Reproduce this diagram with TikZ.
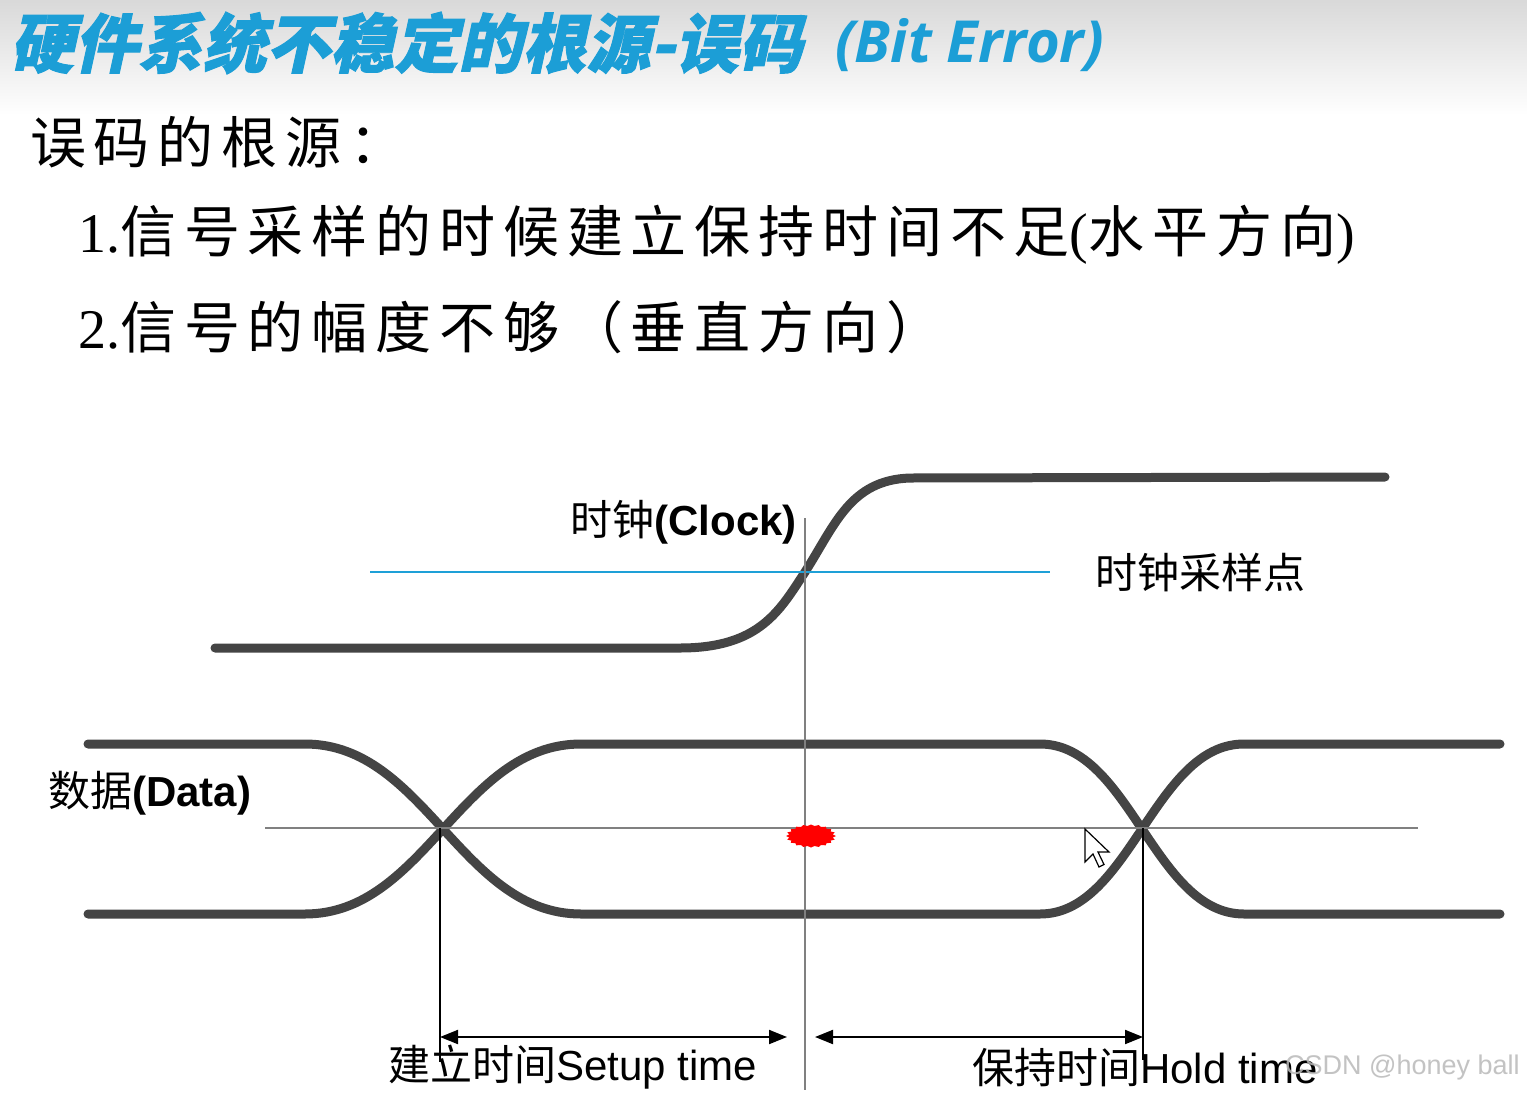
\documentclass[tikz,border=0pt]{standalone}
\usepackage{fontspec}
\setmainfont{Liberation Serif}
\setsansfont{Liberation Sans}
\newfontfamily\cjk{Noto Sans CJK SC}
\newfontfamily\cjksp[LetterSpace=14]{Noto Sans CJK SC}
\newfontfamily\serifsp[LetterSpace=14]{Liberation Serif}
\newfontfamily\cjktitle[FakeSlant=0.22,FakeBold=1.5]{Noto Sans CJK SC}
\newfontfamily\opensans{Open Sans}
\usetikzlibrary{arrows.meta}
\definecolor{titleblue}{RGB}{28,158,214}
\definecolor{wavegray}{RGB}{68,68,68}
\definecolor{sampleblue}{RGB}{30,160,215}
\begin{document}
\begin{tikzpicture}[x=1pt,y=-1pt,
  wave/.style={line width=9pt, draw=wavegray, line cap=round},
  guide/.style={line width=1.8pt, draw=gray},
  blackline/.style={line width=2pt, draw=black},
  dimarrow/.style={line width=2pt, {Triangle[length=18pt,width=14pt]}-{Triangle[length=18pt,width=14pt]}},
  txt/.style={anchor=west, inner sep=0pt},
  bodytext/.style={txt, font=\fontsize{56}{56}\selectfont},
  smalltext/.style={txt, font=\fontsize{42}{42}\selectfont}
]
\useasboundingbox (0,0) rectangle (1527,1093);
\fill[white] (0,0) rectangle (1527,1093);
\shade[top color=gray!30, bottom color=white] (0,0) rectangle (1527,115);

% title
\node[txt, text=titleblue, font={\cjktitle\bfseries\fontsize{64}{64}\selectfont}] (title) at (10,43) {硬件系统不稳定的根源-误码};
\node[txt, text=titleblue, font={\opensans\bfseries\itshape\fontsize{58}{58}\selectfont}] (titleen) at (835,45) {(Bit Error)};

% body text
\node[bodytext] (l0) at (30,142) {\cjksp 误码的根源：};
\node[bodytext] (l1) at (78,235) {1.{\cjksp 信号采样的时候建立保持时间不足}{\serifsp (}{\cjksp 水平方向}{\serifsp )}};
\node[bodytext] (l2) at (78,327) {2.{\cjksp 信号的幅度不够（垂直方向）}};

% clock waveform
\draw[wave] (215,648) -- (680,648) .. controls (760,648) and (780,610) .. (805,572)
  .. controls (835,525) and (850,480) .. (910,478) -- (1385,477);

% data waveforms
\draw[wave] (88,744) -- (305,744) .. controls (425,744) and (461,914) .. (581,914) -- (1040,914)
  .. controls (1130,914) and (1154,744) .. (1244,744) -- (1500,744);
\draw[wave] (88,914) -- (305,914) .. controls (425,914) and (461,744) .. (581,744) -- (1040,744)
  .. controls (1130,744) and (1154,914) .. (1244,914) -- (1500,914);

% guides
\coordinate (bl) at (370,572);
\coordinate (br) at (1050,572);
\draw[line width=2pt, draw=sampleblue] (bl) -- (br);
\coordinate (vt) at (805,518);
\coordinate (vb) at (805,1090);
\draw[guide] (vt) -- (vb);
\coordinate (hl) at (265,828);
\coordinate (hr) at (1418,828);
\draw[guide] (hl) -- (hr);

\coordinate (s1) at (440,828);
\coordinate (s2) at (440,1062);
\coordinate (h1) at (1143,828);
\coordinate (h2) at (1143,1060);
\draw[blackline] (s1) -- (s2);
\draw[blackline] (h1) -- (h2);

% dimension arrows
\coordinate (a1) at (440,1037);
\coordinate (a2) at (787,1037);
\coordinate (a3) at (815,1037);
\coordinate (a4) at (1143,1037);
\draw[dimarrow] (a1) -- (a2);
\draw[dimarrow] (a3) -- (a4);

% red error dot
\fill[red] plot[samples=41, domain=0:40, variable=\k]
  ({811 + 25*(1 - 0.12*mod(\k,2))*cos(9*\k)}, {836 + 11.5*(1 - 0.12*mod(\k,2))*sin(9*\k)}) -- cycle;

% mouse cursor
\draw[black, fill=white, line width=1.2pt, line join=miter] (1085,829) -- ++(0,33) -- ++(8,-8) -- ++(6,13) -- ++(5,-2.5) -- ++(-6,-12.5) -- ++(11,0) -- cycle;

% labels
\node[smalltext, anchor=east] (clk) at (797,522) {{\cjk 时钟}{\sffamily\bfseries (Clock)}};
\node[smalltext] (samp) at (1095,572) {\cjk 时钟采样点};
\node[smalltext] (data) at (48,793) {{\cjk 数据}{\sffamily\bfseries (Data)}};
\node[smalltext] (setup) at (388,1067) {{\cjk 建立时间}{\sffamily Setup time}};
\node[smalltext] (hold) at (972,1068) {{\cjk 保持时间}{\sffamily Hold time}};
\node[txt, text=gray!55, opacity=0.85, font={\sffamily\fontsize{27}{27}\selectfont}] (wm) at (1285,1068) {CSDN @honey ball};
\end{tikzpicture}
\end{document}
